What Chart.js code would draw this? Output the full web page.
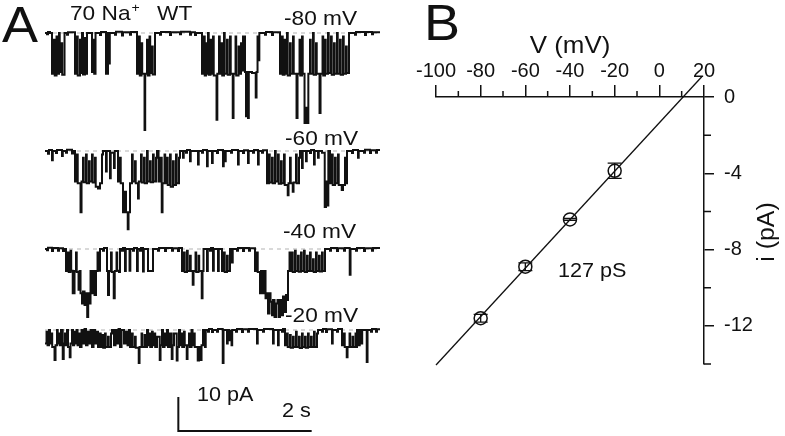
<!DOCTYPE html>
<html>
<head>
<meta charset="utf-8">
<script src="https://cdn.jsdelivr.net/npm/chart.js@4.4.1/dist/chart.umd.min.js"></script>
<style>
  body { margin: 0; background: #fff; width: 785px; height: 436px; overflow: hidden; position: relative; }
  #traces { position: absolute; left: 0; top: 0; }
  #iv { position: absolute; left: 400px; top: 0; }
</style>
</head>
<body>
<canvas id="traces" width="400" height="436"></canvas>
<canvas id="iv" width="385" height="436"></canvas>
<script>
// ---- panel B : i-V relation ----
const voltages = [-80, -60, -40, -20];          // mV
const currents = [-11.6, -8.9, -6.42, -3.87];   // pA
const currentErr = [0.2, 0.2, 0.05, 0.4];       // pA
const fitV = [-100, 19];                        // 127 pS fit, end points
const fitI = [-14.05, 1.06];
const xTicks = [-100, -80, -60, -40, -20, 0, 20];
const xMinorTicks = [-90, -70, -50, -30, -10, 10];
const yTicks = [0, -4, -8, -12];
const yMinorTicks = [-2, -6, -10, -14];

// ---- panel A : single channel records, [time s, current pA], value held until next point ----
const traceLabels = ["-80 mV", "-60 mV", "-40 mV", "-20 mV"];
const trace80 = [[0,0],[0.03,-0.4],[0.045,0.3],[0.075,0],[0.105,-12],[0.135,-2],[0.146,-12.5],[0.173,-1],[0.183,-12],[0.21,0],[0.221,-11.5],[0.248,-3],[0.258,-12.3],[0.293,0],[0.33,-0.5],[0.345,0.2],[0.45,-12],[0.48,-1],[0.491,-12.5],[0.525,-2],[0.534,-11.8],[0.555,0],[0.57,-12.2],[0.6,-1.5],[0.611,-12],[0.63,0],[0.705,-11.5],[0.728,-2],[0.738,-12],[0.758,0],[0.825,-0.6],[0.84,0.3],[0.915,-12],[0.945,0],[0.96,-9],[0.972,0],[1.05,-0.5],[1.065,0.4],[1.155,-0.7],[1.17,0.2],[1.275,-0.5],[1.29,0.3],[1.38,-12],[1.41,-1],[1.422,-12.5],[1.448,-3],[1.458,-12],[1.493,-28.5],[1.503,-12],[1.53,-2],[1.541,-12.5],[1.568,-1],[1.578,-11.8],[1.605,-4],[1.616,-12.2],[1.65,0],[1.725,-0.5],[1.74,0.3],[1.875,-0.6],[1.89,0.2],[2.025,-0.4],[2.04,0.4],[2.175,-0.5],[2.19,0.2],[2.25,-0.6],[2.265,0],[2.355,-12],[2.385,-1],[2.396,-12.5],[2.415,-3],[2.426,-12],[2.445,0],[2.456,-12.3],[2.483,-2],[2.493,-12],[2.52,-1],[2.531,-12.5],[2.573,-25.5],[2.585,-12],[2.61,-1],[2.621,-12],[2.648,-3],[2.658,-12.5],[2.685,0],[2.696,-12],[2.73,-2],[2.741,-12.3],[2.775,-1],[2.786,-12],[2.816,-25],[2.828,-12],[2.858,-1],[2.868,-12.5],[2.903,-4],[2.913,-12],[2.94,-3],[2.955,-11],[2.97,-1],[3.0,-11.5],[3.015,-24.5],[3.027,-11.5],[3.045,-25],[3.057,-11.5],[3.105,-11.8],[3.161,-19],[3.173,-11.5],[3.188,-1],[3.203,-8],[3.215,0],[3.3,-0.5],[3.315,0.3],[3.405,-0.6],[3.42,0.2],[3.525,-12],[3.555,-1],[3.566,-12.3],[3.593,-2],[3.603,-12],[3.63,0],[3.641,-12.5],[3.675,-3],[3.686,-12],[3.72,-1],[3.731,-12],[3.773,-25],[3.788,-12],[3.818,-2],[3.828,-12.5],[3.855,-1],[3.866,-12],[3.893,-26.5],[3.915,-22],[3.927,-26.5],[3.95,-12],[3.975,-2],[3.986,-12],[4.02,0],[4.031,-12.3],[4.065,-3],[4.076,-12],[4.118,-23.5],[4.133,-12],[4.163,-1],[4.173,-12.5],[4.2,-2],[4.211,-12],[4.245,0],[4.256,-11.8],[4.29,-1],[4.301,-12.3],[4.335,-3],[4.346,-12],[4.38,0],[4.391,-12],[4.425,-2],[4.436,-12.3],[4.47,-1],[4.481,-12],[4.515,-4],[4.526,-11.8],[4.56,0],[4.65,-0.5],[4.665,0.3],[4.8,-0.6],[4.815,0.3],[4.905,-0.4],[4.92,0.2],[5.025,0]];
const trace60 = [[0,0],[0.045,-0.8],[0.06,0.3],[0.105,-2.7],[0.117,0],[0.165,-0.6],[0.18,0.3],[0.255,-1.5],[0.267,0],[0.315,-0.5],[0.33,0.4],[0.405,-0.7],[0.42,0],[0.45,-9],[0.48,-1],[0.491,-9.5],[0.533,-18],[0.548,-9],[0.57,-2],[0.581,-9.2],[0.615,-1],[0.626,-9.5],[0.66,-3],[0.671,-9],[0.705,-1],[0.716,-9.3],[0.75,-2],[0.761,-10.5],[0.795,-11],[0.825,-9.5],[0.855,-1],[0.87,0],[0.915,-6],[0.926,0],[0.975,-8],[0.986,-0.5],[1.035,-5],[1.046,0],[1.095,-9],[1.125,-2],[1.136,-9.5],[1.17,-18],[1.2,-12],[1.215,-18],[1.241,-23],[1.253,-18],[1.275,-9.5],[1.305,-1],[1.316,-9],[1.35,-3],[1.361,-9.5],[1.395,-14],[1.407,-9],[1.44,-1],[1.451,-9.3],[1.485,-2],[1.496,-9.5],[1.53,0],[1.541,-9],[1.575,-3],[1.586,-9.2],[1.62,-1],[1.631,-9],[1.665,-2],[1.68,0],[1.703,-9],[1.725,-2],[1.751,-18],[1.763,-9.5],[1.793,-1],[1.803,-9.5],[1.83,-2],[1.841,-10],[1.875,-1],[1.886,-10.5],[1.92,-3],[1.931,-10],[1.965,-1],[1.976,-9.5],[2.01,-2],[2.025,0],[2.07,-2],[2.081,0],[2.115,-0.5],[2.13,0.3],[2.175,-3],[2.186,0],[2.295,-4],[2.306,0],[2.355,-0.5],[2.37,0.3],[2.43,-4.5],[2.441,0],[2.505,-3.5],[2.516,0],[2.58,-0.6],[2.595,0.3],[2.67,-4.5],[2.681,0],[2.7,-3],[2.711,0],[2.79,-0.5],[2.805,0.3],[2.895,-4],[2.906,0],[2.97,-0.6],[2.985,0.2],[3.045,-3.5],[3.056,0],[3.12,-0.5],[3.135,0.3],[3.195,-4],[3.206,0],[3.255,-0.5],[3.27,0.2],[3.33,-9.5],[3.36,-1],[3.371,-9.3],[3.405,-2],[3.416,-9.5],[3.45,0],[3.461,-9],[3.495,-1],[3.506,-9.6],[3.54,-3],[3.551,-9.5],[3.585,-1],[3.596,-10],[3.641,-13],[3.653,-9.5],[3.675,-2],[3.686,-9.5],[3.716,-12],[3.728,-9.3],[3.765,-1],[3.776,-9.5],[3.81,-2],[3.825,0],[3.855,-5],[3.866,0],[3.915,-3],[3.926,0],[3.975,-0.6],[3.99,0.3],[4.035,-4],[4.046,0],[4.095,-2],[4.106,0],[4.155,-0.5],[4.196,-16.5],[4.215,-9],[4.238,-16],[4.25,0],[4.275,-9.5],[4.305,-1],[4.316,-10],[4.35,-2],[4.361,-9.5],[4.395,-1],[4.406,-10],[4.451,-11.5],[4.47,-10],[4.5,-2],[4.511,-9.5],[4.53,0],[4.605,-0.6],[4.62,0.3],[4.695,-2],[4.706,0],[4.785,-0.5],[4.8,0.4],[4.875,-0.6],[4.89,0.2],[4.965,-0.5],[4.98,0.3],[5.025,0]];
const trace40 = [[0,0],[0.03,-0.4],[0.045,0.4],[0.105,-0.6],[0.12,0.3],[0.195,-0.5],[0.21,0.2],[0.27,-0.6],[0.285,0],[0.315,-6.5],[0.345,-1],[0.356,-6.8],[0.383,-0.5],[0.393,-6.4],[0.416,-13],[0.443,-6.5],[0.465,-1],[0.476,-6.8],[0.503,-12],[0.518,-6.5],[0.533,-13],[0.555,-16],[0.57,-12.5],[0.593,-16.5],[0.608,-13],[0.633,-20],[0.648,-13],[0.668,-16],[0.683,-6.5],[0.705,-13],[0.728,-6.5],[0.743,-13.5],[0.765,-6.5],[0.788,-1],[0.798,-6.4],[0.825,0],[0.87,-0.5],[0.885,0.3],[0.93,-6.5],[0.945,-13.5],[0.96,-6.5],[0.99,-1],[1.001,-6.8],[1.031,-14.5],[1.046,-6.5],[1.073,-1],[1.083,-6.4],[1.11,-6.8],[1.125,0],[1.155,-0.5],[1.17,0.3],[1.2,-6.5],[1.212,0],[1.268,-6.4],[1.28,0],[1.32,-0.5],[1.335,0.3],[1.38,-6.5],[1.392,0],[1.425,-0.5],[1.44,0.3],[1.47,-6.6],[1.482,0],[1.545,-6.5],[1.62,0],[1.695,-0.5],[1.71,0.3],[1.8,-0.6],[1.815,0.3],[1.905,-0.5],[1.92,0.2],[1.995,-0.6],[2.01,0.3],[2.055,-6.5],[2.085,-1],[2.096,-6.8],[2.13,-0.5],[2.141,-6.5],[2.175,-2],[2.186,-6.5],[2.216,-10.5],[2.228,-6.5],[2.258,-1],[2.268,-6.8],[2.303,-2],[2.313,-6.5],[2.351,-14.5],[2.363,-6.5],[2.378,0],[2.43,-6.5],[2.442,0],[2.475,-0.5],[2.49,0.3],[2.52,-6.4],[2.532,0],[2.595,-6.5],[2.607,0],[2.655,-6.5],[2.685,-1],[2.696,-6.8],[2.73,-2],[2.741,-6.5],[2.775,0],[2.805,-4],[2.816,0],[2.88,-0.5],[2.895,0.3],[2.97,-0.6],[2.985,0.3],[3.06,-0.5],[3.075,0.2],[3.15,-6.5],[3.18,-1],[3.191,-6.8],[3.225,-13],[3.24,-6.5],[3.263,-13],[3.285,-6.5],[3.308,-14.5],[3.33,-13],[3.345,-19],[3.368,-13],[3.383,-15.5],[3.405,-19.5],[3.42,-15],[3.443,-20],[3.465,-16],[3.488,-15],[3.503,-20],[3.525,-15],[3.548,-19.5],[3.57,-14],[3.593,-18.5],[3.615,-13.5],[3.63,-15],[3.645,-6.5],[3.668,-1],[3.678,-6.5],[3.705,-1],[3.716,-6.8],[3.75,-0.5],[3.761,-6.5],[3.795,-2],[3.806,-6.7],[3.84,-1],[3.851,-6.5],[3.885,-0.5],[3.896,-6.8],[3.93,-2],[3.941,-6.5],[3.975,-1],[3.986,-6.5],[4.02,-3],[4.031,-6.8],[4.065,-1],[4.076,-6.5],[4.11,-2],[4.121,-6.6],[4.155,-1],[4.166,-6.5],[4.2,0],[4.275,-0.5],[4.29,0.3],[4.38,-0.6],[4.395,0.2],[4.485,-0.5],[4.5,0.3],[4.571,-7.6],[4.583,0],[4.665,-0.5],[4.68,0.3],[4.785,-0.6],[4.8,0.2],[4.905,-0.5],[4.92,0.3],[5.025,0]];
const trace20 = [[0,-4],[0.023,-0.5],[0.038,-4.5],[0.06,0],[0.075,-4],[0.098,-1],[0.108,-5],[0.143,-8.8],[0.158,-4.5],[0.18,0],[0.191,-4],[0.21,-1],[0.221,-4.5],[0.24,0],[0.266,-8.5],[0.281,-4],[0.3,-1],[0.311,-4.5],[0.33,0],[0.345,-5],[0.371,-8],[0.383,-4],[0.405,0],[0.42,-4.5],[0.438,-0.5],[0.45,-4],[0.473,0],[0.488,-4.5],[0.51,-1],[0.525,-5],[0.548,0],[0.57,-4],[0.593,0.3],[0.615,-4.5],[0.638,-0.5],[0.66,-4],[0.683,0],[0.705,-5],[0.728,0],[0.75,-4],[0.773,-0.5],[0.795,-5],[0.825,-1],[0.836,-5],[0.863,-1.5],[0.873,-5.2],[0.9,-1],[0.911,-5],[0.945,-2],[0.956,-5],[0.99,-1],[1.005,0],[1.035,-4.5],[1.058,0],[1.08,-4],[1.103,0.3],[1.125,-5],[1.148,0],[1.185,-4],[1.208,-0.5],[1.238,-4.5],[1.26,0],[1.275,-5],[1.305,-1],[1.316,-5],[1.35,-2],[1.361,-5.2],[1.406,-9.7],[1.418,-5],[1.448,-1],[1.458,-5],[1.493,-1.5],[1.503,-5],[1.53,0],[1.545,-4.5],[1.568,-1],[1.578,-5],[1.605,-0.5],[1.616,-4.5],[1.643,-1],[1.653,-5],[1.68,-2],[1.721,-8.8],[1.733,-4.5],[1.755,0],[1.77,-5],[1.793,-1],[1.803,-4.5],[1.83,0],[1.845,-5],[1.875,-1],[1.901,-8.5],[1.913,-4.5],[1.935,-1],[1.976,-9],[1.988,-5],[2.01,0],[2.025,-4.5],[2.048,-1],[2.058,-5],[2.085,-0.5],[2.096,-4.5],[2.126,-8.5],[2.138,-4.5],[2.16,-1],[2.171,-5],[2.198,0],[2.213,-4.5],[2.235,-1],[2.246,-5],[2.291,-9],[2.31,-5],[2.333,-8.8],[2.348,-4.5],[2.37,0],[2.4,-5],[2.411,0],[2.445,-0.5],[2.46,0.3],[2.505,-0.6],[2.52,0],[2.58,-0.5],[2.595,0.3],[2.666,-9.7],[2.678,0],[2.73,-4],[2.741,0],[2.76,-3],[2.771,-0.2],[2.798,-4.5],[2.808,0],[2.865,-0.5],[2.88,0.3],[2.955,-0.6],[2.97,0.2],[3.045,-0.5],[3.06,0.3],[3.18,-4],[3.191,0],[3.27,-0.5],[3.285,0.3],[3.42,-4],[3.431,0],[3.495,-4.5],[3.506,0],[3.555,-0.5],[3.57,0.3],[3.6,-4.5],[3.63,-1],[3.641,-5],[3.675,-1.5],[3.686,-5.2],[3.72,-2],[3.731,-5],[3.765,-0.5],[3.776,-5],[3.81,-2],[3.821,-5.3],[3.855,-1],[3.866,-5],[3.9,-2],[3.911,-5.2],[3.945,-1],[3.956,-5],[3.99,-2],[4.001,-5],[4.035,-0.5],[4.046,-5],[4.08,-1],[4.095,0],[4.155,-0.5],[4.17,0.3],[4.215,-0.6],[4.23,0.2],[4.305,-4],[4.316,0],[4.38,-0.5],[4.395,0.3],[4.455,-4.5],[4.485,-1],[4.496,-5],[4.526,-8],[4.538,-5],[4.568,-1],[4.578,-5],[4.613,-2],[4.623,-5],[4.658,-1],[4.668,-5],[4.68,0],[4.71,-4.5],[4.721,0],[4.748,-4],[4.758,0],[4.826,-9.4],[4.838,0],[4.89,-0.5],[4.905,0.3],[4.965,-0.5],[4.98,0.2],[5.025,0]];
const traces = [trace80, trace60, trace40, trace20];
const recordLength = 5.025;   // s
const scaleBar = { t: 2.0, i: -29.7, dt: 2, di: 10 };  // drawn in the -20 mV trace's units

// ---- layout ----
const FONT = "'Liberation Sans', Arial, Helvetica, sans-serif";
const INK = "#111";
const traceBase = [33, 151, 249, 330];   // pixel row of each trace's closed level
const PX_PER_PA = 3.4;
const AREA_H = 436;
const traceLabelPos = [[284, 25], [285, 145], [283, 238], [285, 322]];

Chart.defaults.font.family = FONT;
Chart.defaults.color = INK;

function drawText(ctx, text, x, y, size, align = "left") {
  ctx.save();
  ctx.font = `${size}px ${FONT}`;
  ctx.fillStyle = INK;
  ctx.textAlign = align;
  ctx.textBaseline = "alphabetic";
  ctx.translate(x, y);
  ctx.scale(1.08, 1);
  ctx.fillText(text, 0, 0);
  const w = ctx.measureText(text).width * 1.08;
  ctx.restore();
  return w;
}

// ---------------- panel A ----------------
const traceScales = { x: { type: "linear", display: false, min: 0, max: recordLength } };
traces.forEach((tr, k) => {
  traceScales["y" + k] = {
    display: false,
    min: -(AREA_H - traceBase[k]) / PX_PER_PA,
    max: traceBase[k] / PX_PER_PA,
  };
});

const traceSets = traces.map((tr, k) => ({
  data: tr.map(([t, i]) => ({ x: t, y: i })),
  yAxisID: "y" + k,
  stepped: "before",
  borderColor: INK,
  borderWidth: 2,
  pointRadius: 0,
  fill: false,
}));
const closedLines = traces.map((tr, k) => ({
  data: [{ x: 0, y: 0 }, { x: recordLength, y: 0 }],
  yAxisID: "y" + k,
  borderColor: "#b4b4b4",
  borderWidth: 1,
  borderDash: [4, 4],
  pointRadius: 0,
  fill: false,
}));

const panelADecor = {
  id: "panelADecor",
  afterDraw(chart) {
    const ctx = chart.ctx;
    drawText(ctx, "A", 2, 42, 50);
    const w = drawText(ctx, "70 Na", 70, 20, 21);
    drawText(ctx, "+", 70 + w + 1, 12, 13);
    drawText(ctx, "WT", 157, 20, 21);
    traceLabels.forEach((lab, k) => drawText(ctx, lab, traceLabelPos[k][0], traceLabelPos[k][1], 21));

    const xs = chart.scales.x, ys = chart.scales.y3;
    const x0 = xs.getPixelForValue(scaleBar.t);
    const x1 = xs.getPixelForValue(scaleBar.t + scaleBar.dt);
    const yb = ys.getPixelForValue(scaleBar.i);
    const yt = ys.getPixelForValue(scaleBar.i + scaleBar.di);
    ctx.save();
    ctx.strokeStyle = INK;
    ctx.lineWidth = 2;
    ctx.beginPath();
    ctx.moveTo(x0, yt);
    ctx.lineTo(x0, yb);
    ctx.lineTo(x1, yb);
    ctx.stroke();
    ctx.restore();
    drawText(ctx, "10 pA", 197, 401, 20);
    drawText(ctx, "2 s", 282, 417, 20);
  },
};

new Chart(document.getElementById("traces"), {
  type: "line",
  data: { datasets: [...traceSets, ...closedLines] },
  options: {
    responsive: false,
    animation: false,
    events: [],
    layout: { padding: { left: 45, right: 20, top: 0, bottom: 0 } },
    plugins: { legend: { display: false }, tooltip: { enabled: false } },
    scales: traceScales,
  },
  plugins: [panelADecor],
});

// ---------------- panel B ----------------
const panelBDecor = {
  id: "panelBDecor",
  afterDraw(chart) {
    const ctx = chart.ctx;
    const xs = chart.scales.x, ys = chart.scales.y;
    const area = chart.chartArea;
    ctx.save();
    ctx.strokeStyle = INK;
    ctx.lineWidth = 1.5;
    ctx.beginPath();
    xMinorTicks.forEach((v) => {
      const px = xs.getPixelForValue(v);
      ctx.moveTo(px, area.top);
      ctx.lineTo(px, area.top - 6);
    });
    yMinorTicks.forEach((v) => {
      const py = ys.getPixelForValue(v);
      ctx.moveTo(area.right, py);
      ctx.lineTo(area.right + 7, py);
    });
    ctx.stroke();

    // error bars
    ctx.lineWidth = 1.3;
    ctx.beginPath();
    voltages.forEach((v, k) => {
      const px = xs.getPixelForValue(v);
      const lo = ys.getPixelForValue(currents[k] - currentErr[k]);
      const hi = ys.getPixelForValue(currents[k] + currentErr[k]);
      ctx.moveTo(px, lo); ctx.lineTo(px, hi);
      ctx.moveTo(px - 7, lo); ctx.lineTo(px + 7, lo);
      ctx.moveTo(px - 7, hi); ctx.lineTo(px + 7, hi);
    });
    ctx.stroke();
    ctx.restore();

    drawText(ctx, "B", 24, 39.5, 50);
    drawText(ctx, "V (mV)", (area.left + area.right) / 2, 52.5, 24, "center");
    drawText(ctx, "127 pS", 158, 277, 20);
    ctx.save();
    ctx.translate(373.5, 232);
    ctx.rotate(-Math.PI / 2);
    drawText(ctx, "i (pA)", 0, 0, 23, "center");
    ctx.restore();
  },
};

new Chart(document.getElementById("iv"), {
  type: "scatter",
  data: {
    datasets: [
      {
        data: voltages.map((v, k) => ({ x: v, y: currents[k] })),
        pointRadius: 6.5,
        pointBorderWidth: 1.5,
        pointBorderColor: INK,
        pointBackgroundColor: "rgba(0,0,0,0)",
      },
      {
        type: "line",
        data: fitV.map((v, k) => ({ x: v, y: fitI[k] })),
        borderColor: INK,
        borderWidth: 1.3,
        pointRadius: 0,
        fill: false,
        clip: false,
      },
    ],
  },
  options: {
    responsive: false,
    animation: false,
    events: [],
    layout: { padding: { left: 36, right: 0, top: 0, bottom: 72 } },
    plugins: { legend: { display: false }, tooltip: { enabled: false } },
    scales: {
      x: {
        type: "linear",
        position: "top",
        min: -100,
        max: 20,
        afterBuildTicks: (s) => { s.ticks = xTicks.map((v) => ({ value: v })); },
        afterFit: (s) => { s.height = 97; },
        ticks: { font: { size: 20 }, color: INK, padding: 2, maxRotation: 0, autoSkip: false },
        grid: { drawOnChartArea: false, tickLength: 12, color: INK, lineWidth: 1.5 },
        border: { color: INK, width: 1.5 },
      },
      y: {
        type: "linear",
        position: "right",
        min: -14,
        max: 0,
        afterBuildTicks: (s) => { s.ticks = yTicks.map((v) => ({ value: v })); },
        afterFit: (s) => { s.width = 81; },
        ticks: { font: { size: 20 }, color: INK, padding: 10, autoSkip: false },
        grid: { drawOnChartArea: false, tickLength: 10, color: INK, lineWidth: 1.5 },
        border: { color: INK, width: 1.5 },
      },
    },
  },
  plugins: [panelBDecor],
});
</script>
</body>
</html>
